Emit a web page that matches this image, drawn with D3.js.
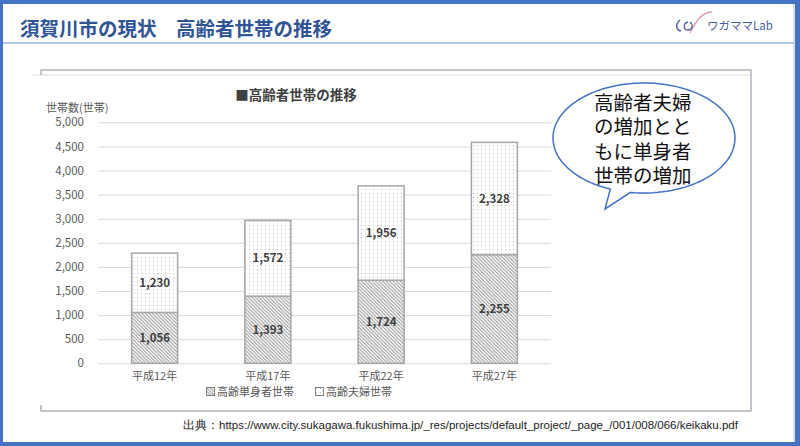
<!DOCTYPE html>
<html><head><meta charset="utf-8">
<script src="https://cdn.jsdelivr.net/npm/d3@7"></script>
<style>body{margin:0;background:#fff}svg{display:block}</style>
</head><body><svg id="c" width="800" height="446"></svg>
<script>
const categories = ["平成12年", "平成17年", "平成22年", "平成27年"];
const singleHouseholds = [1056, 1393, 1724, 2255];
const coupleHouseholds = [1230, 1572, 1956, 2328];
const seriesNames = ["高齢単身者世帯", "高齢夫婦世帯"];
const yTicks = [0, 500, 1000, 1500, 2000, 2500, 3000, 3500, 4000, 4500, 5000];
const slideTitle = "須賀川市の現状　高齢者世帯の推移";
const chartTitle = "■高齢者世帯の推移";
const yAxisTitle = "世帯数(世帯)";
const bubbleLines = ["高齢者夫婦", "の増加とと", "もに単身者", "世帯の増加"];
const sourceText = "出典：https://www.city.sukagawa.fukushima.jp/_res/projects/default_project/_page_/001/008/066/keikaku.pdf";
const logoText = "ワガママLab";

const JP = "'Noto Sans CJK JP','Noto Sans',sans-serif";
const svg = d3.select("#c");
const defs = svg.append("defs");

// patterns
const hatch = defs.append("pattern").attr("id", "hatch").attr("patternUnits", "userSpaceOnUse")
  .attr("width", 3.5).attr("height", 3.5);
hatch.append("rect").attr("width", 3.5).attr("height", 3.5).attr("fill", "#fff");
hatch.append("path").attr("d", "M-1,-1L4.5,4.5M-1,2.5L1,4.5M2.5,-1L4.5,1")
  .attr("stroke", "#8a8a8a").attr("stroke-width", 0.9);
const dots = defs.append("pattern").attr("id", "dots").attr("patternUnits", "userSpaceOnUse")
  .attr("width", 4).attr("height", 4);
dots.append("rect").attr("width", 4).attr("height", 4).attr("fill", "#fff");
dots.append("rect").attr("x", 1).attr("y", 1).attr("width", 1).attr("height", 1).attr("fill", "#b8b8b8");

// frame
svg.append("rect").attr("width", 800).attr("height", 446).attr("fill", "#4472C4");
svg.append("rect").attr("x", 3).attr("y", 4).attr("width", 792).attr("height", 438).attr("fill", "#fff");
svg.append("line").attr("x1", 794).attr("x2", 794).attr("y1", 4).attr("y2", 442).attr("stroke", "#cfd4dc").attr("stroke-width", 1.5);
svg.append("line").attr("x1", 3).attr("x2", 794).attr("y1", 43).attr("y2", 43).attr("stroke", "#b4c7e7").attr("stroke-width", 2);

// slide title
svg.append("text").attr("x", 20).attr("y", 36).attr("font-family", JP).attr("font-size", 19.5)
  .attr("font-weight", "bold").attr("fill", "#2F5597").text(slideTitle);

// logo
const logo = svg.append("g");
logo.append("path").attr("d", "M690,33 C696,20 704,12 712,12").attr("fill", "none").attr("stroke", "#e79ab5").attr("stroke-width", 1.5);
logo.append("path").attr("d", "M680,20 C675,24 676,30 681,31").attr("fill", "none").attr("stroke", "#4a5fa8").attr("stroke-width", 1.5);
logo.append("path").attr("d", "M688,22 C683,23 683,30 688,30 C692,30 694,25 690,22").attr("fill", "none").attr("stroke", "#4a5fa8").attr("stroke-width", 1.3);
logo.append("text").attr("x", 707).attr("y", 30).attr("font-family", JP).attr("font-size", 11.5)
  .attr("fill", "#4a5fa8").text(logoText);

// chart image box
const box = svg.append("g");
box.append("line").attr("x1", 32).attr("x2", 751).attr("y1", 75).attr("y2", 75).attr("stroke", "#eeeeee").attr("stroke-width", 2);
box.append("path").attr("d", "M41,75V70H751V411H41V405").attr("fill", "none").attr("stroke", "#b0b4bc").attr("stroke-width", 1.5);

// chart
const x = d3.scaleBand().domain(categories).range([98, 551]).paddingInner(0.594).paddingOuter(0.297);
const y = d3.scaleLinear().domain([0, 5000]).range([363.3, 122.3]);

svg.append("text").attr("x", 296).attr("y", 100).attr("text-anchor", "middle").attr("font-family", JP)
  .attr("font-size", 13.5).attr("font-weight", "bold").attr("fill", "#404040").text(chartTitle);
svg.append("text").attr("x", 46).attr("y", 111.5).attr("font-family", JP).attr("font-size", 11)
  .attr("fill", "#595959").text(yAxisTitle);

const yAxis = d3.axisLeft(y).tickValues(yTicks).tickFormat(d3.format(",")).tickSize(-(551 - 98)).tickPadding(14);
const ga = svg.append("g").attr("transform", "translate(98,0)").call(yAxis);
ga.select(".domain").remove();
ga.selectAll(".tick line").attr("stroke", "#d9d9d9").attr("stroke-width", 1);
ga.selectAll(".tick text").attr("font-family", JP).attr("font-size", 11.5).attr("fill", "#595959");

const xAxis = d3.axisBottom(x).tickSize(0).tickPadding(9);
const gx = svg.append("g").attr("transform", "translate(0,363.3)").call(xAxis);
gx.select(".domain").remove();
gx.selectAll(".tick text").attr("font-family", JP).attr("font-size", 11).attr("fill", "#595959");

const table = categories.map((c, i) => ({ cat: c, single: singleHouseholds[i], couple: coupleHouseholds[i] }));
const stack = d3.stack().keys(["single", "couple"])(table);
const fills = ["url(#hatch)", "url(#dots)"];

stack.forEach((layer, li) => {
  const g = svg.append("g");
  g.selectAll("rect").data(layer).join("rect")
    .attr("x", d => x(d.data.cat)).attr("width", x.bandwidth())
    .attr("y", d => y(d[1])).attr("height", d => y(d[0]) - y(d[1]))
    .attr("fill", fills[li]).attr("stroke", "#a6a6a6").attr("stroke-width", 1.5);
  g.selectAll("text").data(layer).join("text")
    .attr("x", d => x(d.data.cat) + x.bandwidth() / 2)
    .attr("y", d => (y(d[0]) + y(d[1])) / 2 + 4)
    .attr("text-anchor", "middle").attr("font-family", JP).attr("font-size", 11.5)
    .attr("font-weight", "bold").attr("fill", "#404040")
    .text(d => d3.format(",")(d[1] - d[0]));
});

// legend
const legendX = [206, 315];
seriesNames.forEach((n, i) => {
  const lg = svg.append("g").attr("transform", `translate(${legendX[i]},387)`);
  lg.append("rect").attr("x", 0.5).attr("y", 0.5).attr("width", 8).attr("height", 8)
    .attr("fill", fills[i]).attr("stroke", "#808080").attr("stroke-width", 1);
  lg.append("text").attr("x", 11).attr("y", 9).attr("font-family", JP).attr("font-size", 11)
    .attr("fill", "#595959").text(n);
});

// speech bubble
const bubble = svg.append("g");
const cx = 644, cy = 138, rx = 91, ry = 55;
const a1 = 1.95, a2 = 1.72;
const p2 = [cx + rx * Math.cos(a2), cy + ry * Math.sin(a2)];
const tip = [605, 209];
const path = d3.path();
path.moveTo(p2[0], p2[1]);
const steps = 120;
for (let k = 1; k <= steps; k++) {
  const a = a2 - (2 * Math.PI - (a1 - a2)) * k / steps;
  path.lineTo(cx + rx * Math.cos(a), cy + ry * Math.sin(a));
}
path.lineTo(tip[0], tip[1]);
path.closePath();
bubble.append("path").attr("d", path.toString()).attr("fill", "#fff").attr("stroke", "#4472C4").attr("stroke-width", 1.5);
bubble.selectAll("text").data(bubbleLines).join("text")
  .attr("x", 594).attr("y", (d, i) => 110 + i * 24.3)
  .attr("font-family", JP).attr("font-size", 19.5).attr("fill", "#111").text(d => d);

// source
svg.append("text").attr("x", 183).attr("y", 429).attr("font-family", "'Liberation Sans',Arial,sans-serif")
  .attr("font-size", 11.5).attr("fill", "#222").text(sourceText);
</script></body></html>
